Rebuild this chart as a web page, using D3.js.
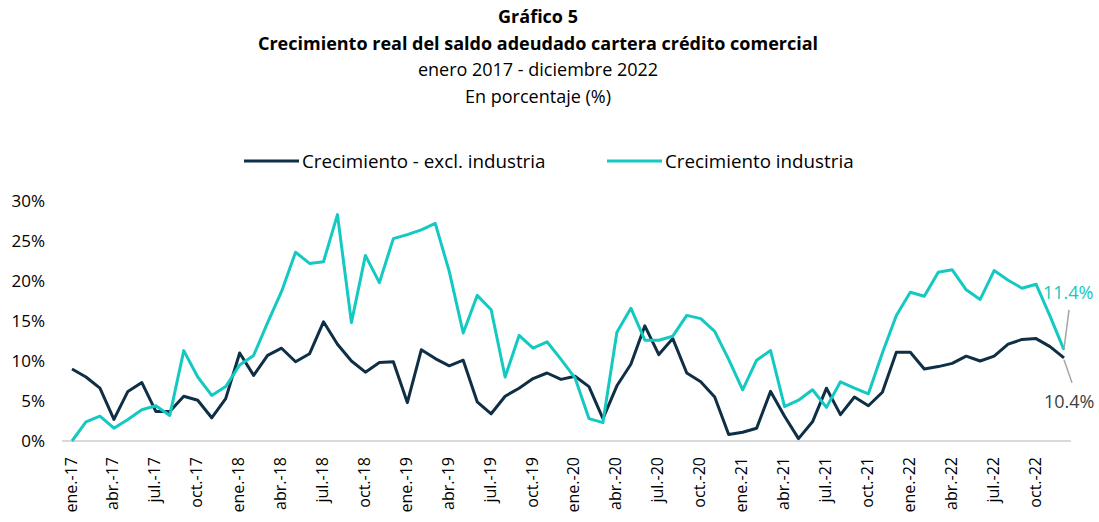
<!DOCTYPE html>
<html>
<head>
<meta charset="utf-8">
<script src="https://cdn.jsdelivr.net/npm/d3@7"></script>
<style>
  body { margin: 0; background: #fff; }
  svg { font-family: "Open Sans", Lato, sans-serif; }
  .title { font-size: 18px; fill: #000; text-anchor: middle; }
</style>
</head>
<body>
<svg id="chart" width="1099" height="522"></svg>
<script>
const MONTHS = ['ene.', 'feb.', 'mar.', 'abr.', 'may.', 'jun.', 'jul.', 'ago.', 'sep.', 'oct.', 'nov.', 'dic.'];
const YEARS = [17, 18, 19, 20, 21, 22];

const excl = [
  9.0, 8.0, 6.6, 2.7, 6.2, 7.3, 3.7, 3.7, 5.6, 5.1, 2.9, 5.3,
  11.0, 8.2, 10.7, 11.6, 9.9, 10.9, 14.9, 12.1, 10.0, 8.6, 9.8, 9.9,
  4.8, 11.4, 10.3, 9.4, 10.1, 4.9, 3.4, 5.6, 6.6, 7.8, 8.5, 7.7,
  8.1, 6.8, 2.8, 6.9, 9.6, 14.4, 10.8, 12.8, 8.5, 7.4, 5.5, 0.8,
  1.1, 1.6, 6.2, 3.1, 0.3, 2.4, 6.6, 3.3, 5.5, 4.4, 6.1, 11.1,
  11.1, 9.0, 9.3, 9.7, 10.6, 10.0, 10.6, 12.1, 12.7, 12.8, 11.8, 10.4
];

const industria = [
  0.0, 2.4, 3.1, 1.6, 2.7, 3.9, 4.4, 3.2, 11.3, 8.0, 5.7, 6.8,
  9.5, 10.7, 14.8, 18.7, 23.6, 22.2, 22.4, 28.3, 14.8, 23.2, 19.8, 25.3,
  25.8, 26.4, 27.2, 21.2, 13.5, 18.2, 16.4, 8.0, 13.2, 11.6, 12.4, 10.2,
  7.9, 2.8, 2.3, 13.6, 16.6, 12.6, 12.6, 13.1, 15.7, 15.3, 13.7, 10.2,
  6.4, 10.1, 11.3, 4.3, 5.1, 6.4, 4.2, 7.4, 6.6, 5.9, 11.0, 15.7,
  18.6, 18.1, 21.1, 21.4, 18.9, 17.7, 21.3, 20.1, 19.1, 19.6, 15.6, 11.4
];

const yTicks = [0, 5, 10, 15, 20, 25, 30];
const categories = YEARS.flatMap((y) => MONTHS.map((m) => `${m}-${y}`));

const series = [
  { name: 'Crecimiento - excl. industria', values: excl, color: '#0e2f45' },
  { name: 'Crecimiento industria', values: industria, color: '#14c9c2' },
];

const svg = d3.select('#chart');

const x = d3.scalePoint()
  .domain(categories)
  .range([72, 1064]);

const y = d3.scaleLinear()
  .domain([0, 30])
  .range([441, 201]);

// titles
const titles = [
  { text: 'Gráfico 5', y: 23, bold: true },
  { text: 'Crecimiento real del saldo adeudado cartera crédito comercial', y: 50, bold: true },
  { text: 'enero 2017 - diciembre 2022', y: 76, bold: false },
  { text: 'En porcentaje (%)', y: 103, bold: false },
];
svg.selectAll('text.title')
  .data(titles)
  .enter()
    .append('text')
    .classed('title', true)
    .attr('x', 538)
    .attr('y', (d) => d.y)
    .attr('font-weight', (d) => d.bold ? 700 : 400)
    .text((d) => d.text);

// legend
const legendPos = [244, 607];
const legend = svg.selectAll('g.legend')
  .data(series)
  .enter()
    .append('g')
    .attr('class', 'legend')
    .attr('transform', (d, i) => `translate(${legendPos[i]},161)`);
legend.append('line')
  .attr('x1', 0)
  .attr('x2', 55)
  .attr('stroke', (d) => d.color)
  .attr('stroke-width', 3);
legend.append('text')
  .attr('x', 58)
  .attr('y', 6.5)
  .attr('font-size', 18.8)
  .text((d) => d.name);

// y axis
const yAxis = svg.append('g')
  .attr('transform', 'translate(48,0)')
  .call(d3.axisLeft(y).tickValues(yTicks).tickSize(0).tickFormat((d) => d + '%'));
yAxis.attr('font-family', null).attr('font-size', null);
yAxis.select('.domain').remove();
yAxis.selectAll('text')
  .attr('font-size', 17)
  .attr('fill', '#000');

// baseline
svg.append('line')
  .attr('x1', 62)
  .attr('x2', 1071)
  .attr('y1', y(0))
  .attr('y2', y(0))
  .attr('stroke', '#d9d9d9')
  .attr('stroke-width', 2);

// x axis
const xAxis = svg.append('g')
  .attr('transform', 'translate(0,441)')
  .call(d3.axisBottom(x)
    .tickValues(categories.filter((d, i) => i % 3 === 0))
    .tickSize(0));
xAxis.attr('font-family', null).attr('font-size', null);
xAxis.select('.domain').remove();
xAxis.selectAll('text')
  .attr('text-anchor', 'end')
  .attr('dy', null)
  .attr('y', 0)
  .attr('transform', 'translate(4,16) rotate(-90)')
  .attr('font-size', 16)
  .attr('fill', '#000');

// lines
const line = d3.line()
  .x((d, i) => x(categories[i]))
  .y((d) => y(d));

svg.selectAll('path.series')
  .data(series)
  .enter()
    .append('path')
    .classed('series', true)
    .attr('fill', 'none')
    .attr('stroke', (d) => d.color)
    .attr('stroke-width', 3)
    .attr('stroke-linejoin', 'round')
    .attr('d', (d) => line(d.values));

// end labels
const last = categories[categories.length - 1];
const lastInd = industria[industria.length - 1];
const lastExcl = excl[excl.length - 1];

svg.append('line')
  .attr('x1', x(last))
  .attr('y1', y(lastInd) - 1)
  .attr('x2', x(last) + 5)
  .attr('y2', y(lastInd) - 40)
  .attr('stroke', '#a6a6a6')
  .attr('stroke-width', 1.5);
svg.append('text')
  .attr('x', 1043)
  .attr('y', 299)
  .attr('font-size', 18)
  .attr('fill', '#14c9c2')
  .text(lastInd.toFixed(1) + '%');

svg.append('line')
  .attr('x1', x(last))
  .attr('y1', y(lastExcl) + 2)
  .attr('x2', x(last) + 8)
  .attr('y2', y(lastExcl) + 25)
  .attr('stroke', '#a6a6a6')
  .attr('stroke-width', 1.5);
svg.append('text')
  .attr('x', 1044)
  .attr('y', 408)
  .attr('font-size', 18)
  .attr('fill', '#404040')
  .text(lastExcl.toFixed(1) + '%');
</script>
</body>
</html>
